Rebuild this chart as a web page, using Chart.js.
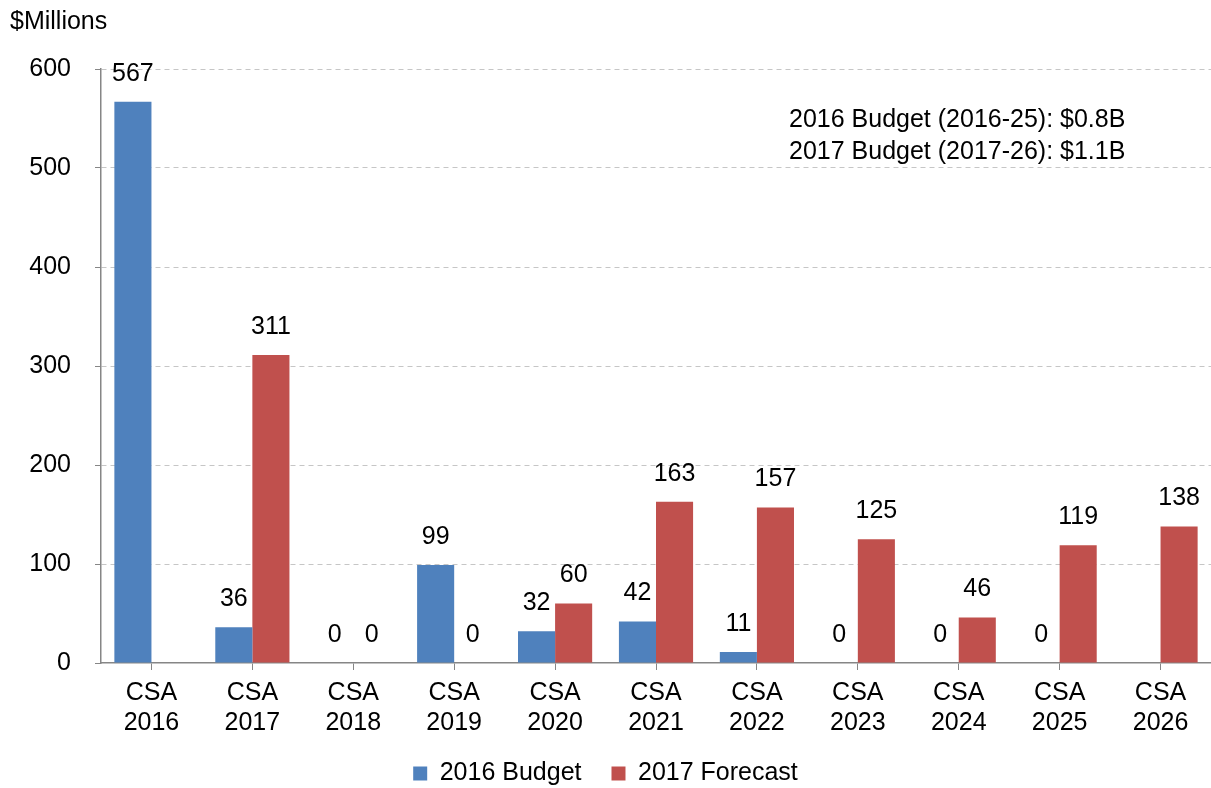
<!DOCTYPE html>
<html>
<head>
<meta charset="utf-8">
<script src="https://cdn.jsdelivr.net/npm/chart.js@4.4.0/dist/chart.umd.min.js"></script>
<style>
  html, body { margin: 0; padding: 0; background: #fff; }
</style>
</head>
<body>
<canvas id="csaChart" width="1211" height="788"></canvas>
<script>
// CSA spend by year, $ millions
const categories = [
  ['CSA', '2016'], ['CSA', '2017'], ['CSA', '2018'], ['CSA', '2019'],
  ['CSA', '2020'], ['CSA', '2021'], ['CSA', '2022'], ['CSA', '2023'],
  ['CSA', '2024'], ['CSA', '2025'], ['CSA', '2026']
];
const budget2016 = [567, 36, 0, 99, 32, 42, 11, 0, 0, 0, null];
const forecast2017 = [null, 311, 0, 0, 60, 163, 157, 125, 46, 119, 138];
const yTicks = [0, 100, 200, 300, 400, 500, 600];
const unitLabel = '$Millions';
const budgetNotes = ['2016 Budget (2016-25): $0.8B', '2017 Budget (2017-26): $1.1B'];

const FONT = '"Liberation Sans", Arial, sans-serif';
const FONT_SIZE = 25;
const AXIS_GREY = '#868686';

// numbers above each bar
const valueLabels = {
  id: 'valueLabels',
  afterDatasetsDraw(chart) {
    const ctx = chart.ctx;
    ctx.save();
    ctx.font = FONT_SIZE + 'px ' + FONT;
    ctx.fillStyle = '#000';
    ctx.textAlign = 'center';
    ctx.textBaseline = 'middle';
    chart.data.datasets.forEach((ds, i) => {
      chart.getDatasetMeta(i).data.forEach((bar, j) => {
        if (ds.data[j] == null) return;
        ctx.fillText(String(ds.data[j]), bar.x, bar.y - 28);
      });
    });
    ctx.restore();
  }
};

// unit caption and the budget totals box
const headerText = {
  id: 'headerText',
  afterDraw(chart) {
    const ctx = chart.ctx;
    const area = chart.chartArea;
    ctx.save();
    ctx.font = FONT_SIZE + 'px ' + FONT;
    ctx.fillStyle = '#000';
    ctx.textAlign = 'left';
    ctx.textBaseline = 'middle';
    ctx.fillText(unitLabel, 10, 22);
    budgetNotes.forEach((line, i) => {
      ctx.fillText(line, area.left + 688, area.top + 51 + i * 32);
    });
    ctx.restore();
  }
};

const ctx = document.getElementById('csaChart').getContext('2d');
const csaChart = new Chart(ctx, {
  type: 'bar',
  data: {
    labels: categories,
    datasets: [{
      label: '2016 Budget',
      data: budget2016,
      backgroundColor: '#4F81BD',
      borderWidth: 0,
      barPercentage: 1,
      categoryPercentage: 0.735
    }, {
      label: '2017 Forecast',
      data: forecast2017,
      backgroundColor: '#C0504D',
      borderWidth: 0,
      barPercentage: 1,
      categoryPercentage: 0.735
    }]
  },
  options: {
    responsive: false,
    animation: false,
    layout: {
      // legend row sits close to the bottom edge
      padding: { top: 69, left: 0, right: 0, bottom: -8 }
    },
    scales: {
      x: {
        offset: true,
        grid: {
          offset: false,
          drawOnChartArea: false,
          tickLength: 7,
          tickColor: AXIS_GREY
        },
        border: { color: AXIS_GREY, width: 1.5 },
        ticks: {
          color: '#000',
          font: { family: FONT, size: FONT_SIZE, lineHeight: 1.2 },
          padding: 8,
          maxRotation: 0,
          autoSkip: false
        },
        afterFit: (scale) => { scale.height = 68; }
      },
      y: {
        min: 0,
        max: 600,
        afterBuildTicks: (scale) => { scale.ticks = yTicks.map(v => ({ value: v })); },
        grid: {
          color: (c) => (c.tick && c.tick.value === 0) ? 'rgba(0,0,0,0)' : '#C6C6C6',
          tickColor: AXIS_GREY,
          tickLength: 6,
          tickBorderDash: []
        },
        border: { color: AXIS_GREY, width: 1.5, dash: [5, 4] },
        ticks: {
          color: '#000',
          font: { family: FONT, size: FONT_SIZE },
          padding: 24
        },
        afterFit: (scale) => { scale.width = 101; }
      }
    },
    plugins: {
      legend: {
        position: 'bottom',
        labels: {
          boxWidth: 14,
          boxHeight: 14,
          padding: 30,
          color: '#000',
          font: { family: FONT, size: FONT_SIZE }
        }
      },
      tooltip: { enabled: false }
    }
  },
  plugins: [valueLabels, headerText]
});
</script>
</body>
</html>
